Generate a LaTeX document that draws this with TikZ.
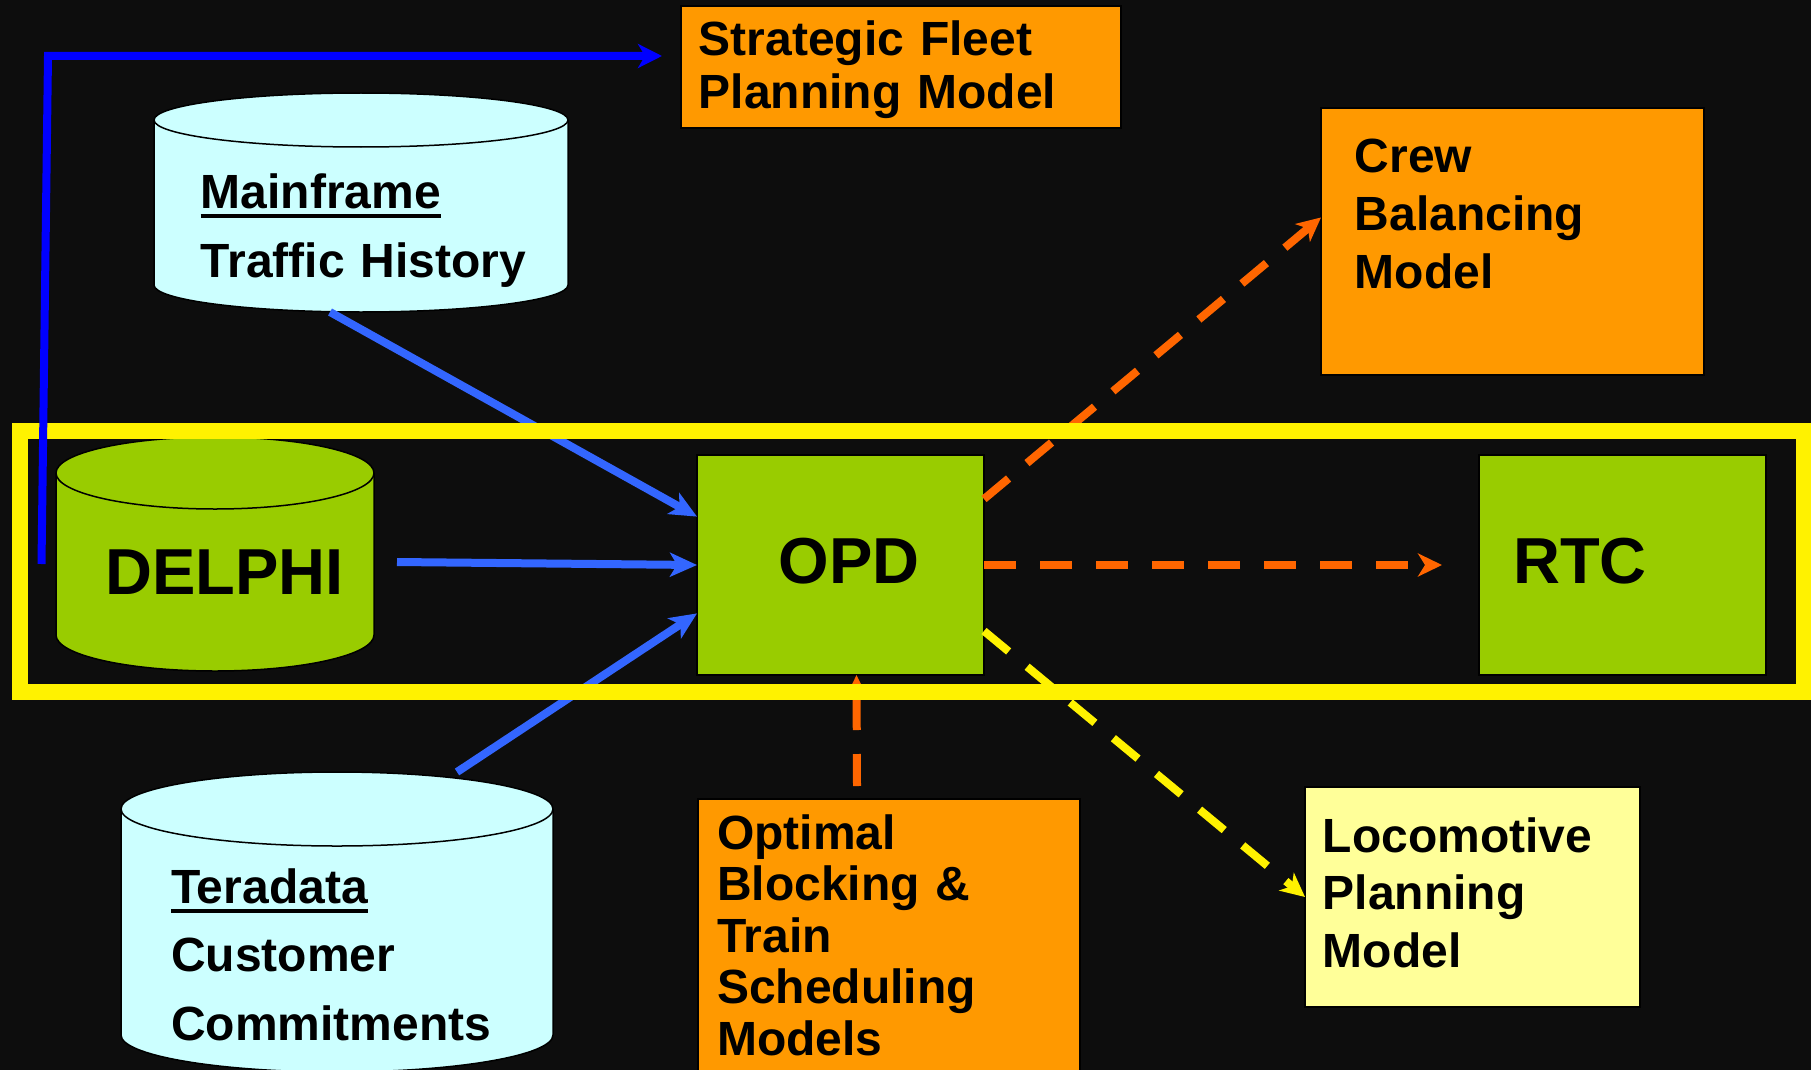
\documentclass[tikz,border=0pt]{standalone}
\usepackage{fontspec}
\setmainfont{Liberation Sans}
\usetikzlibrary{arrows.meta,positioning,calc}

\definecolor{slate}{HTML}{0D0D0D}
\definecolor{modelorange}{HTML}{FF9900}
\definecolor{coregreen}{HTML}{99CC00}
\definecolor{dbcyan}{HTML}{CCFFFF}
\definecolor{locoyellow}{HTML}{FFFF99}
\definecolor{feedblue}{HTML}{3366FF}
\definecolor{planblue}{HTML}{0000FF}
\definecolor{dashorange}{HTML}{FF6600}

% thick underline for the database titles
\newcommand{\dbtitle}[1]{\setbox0=\hbox{#1}\rlap{\rule[-10pt]{\wd0}{4pt}}\box0}

% upright drum: width, height, lid depth, fill
\tikzset{
  pics/database/.style n args={4}{code={
    \path[fill=#4, draw=black, line width=1.5pt]
      (-#1/2,#3-#2/2) -- (-#1/2,#2/2-#3)
      arc[start angle=180, end angle=360, x radius=#1/2*1pt, y radius=#3*1pt]
      -- (#1/2,#3-#2/2)
      arc[start angle=0, end angle=180, x radius=#1/2*1pt, y radius=#3*1pt] -- cycle;
    \draw[black, line width=1.5pt] (-#1/2,#3-#2/2)
      arc[start angle=180, end angle=360, x radius=#1/2*1pt, y radius=#3*1pt];
    \node[inner sep=0pt, outer sep=0pt, minimum width=#1*1pt, minimum height=#2*1pt] (-body) {};
  }}
}

\begin{document}
\begin{tikzpicture}[
    x=1pt, y=-1pt,
    block/.style={rectangle, draw=black, line width=2pt, anchor=north west, inner sep=0pt, outer sep=0pt},
    textblock/.style={anchor=base west, inner sep=0pt, text width=440pt, align=left, font=\bfseries\fontsize{48}{#1}\selectfont},
    bigtext/.style={anchor=base west, inner sep=0pt, font=\bfseries\fontsize{65}{78}\selectfont},
    feed/.style={draw=feedblue, line width=8pt, -{Stealth[length=27pt, width=24pt, inset=7pt]}},
    link/.style={line width=8pt, dash pattern=on 32pt off 24pt, -{Stealth[length=24pt, width=23pt, inset=7pt]}}
]
% page background
\fill[slate, use as bounding box] (0,0) rectangle (1811,1070);

% data sources
\pic (mainframe) at (361,202.5) {database={414}{219}{27}{dbcyan}};
\pic (delphi) at (215,554) {database={318}{234}{36}{coregreen}};
\pic (teradata) at (337,922) {database={432}{300}{37}{dbcyan}};

% planning models
\node[block, fill=modelorange, minimum width=440pt, minimum height=122pt] (fleet) at (681,6) {};
\node[block, fill=modelorange, minimum width=383pt, minimum height=267pt] (crew) at (1321,108) {};
\node[block, fill=modelorange, minimum width=382pt, minimum height=300pt] (optimal) at (698,799) {};
\node[block, fill=locoyellow, minimum width=335pt, minimum height=220pt] (loco) at (1305,787) {};
\node[block, fill=coregreen, minimum width=287pt, minimum height=220pt] (opd) at (697,455) {};
\node[block, fill=coregreen, minimum width=287pt, minimum height=220pt] (rtc) at (1479,455) {};

% labels
\node[textblock=69] (mainframetext) at (200.5,208) {\dbtitle{Mainframe}\\Traffic History};
\node[textblock=68.5] (teradatatext) at (171,903) {\dbtitle{Teradata}\\Customer\\Commitments};
\node[textblock=53] (fleettext) at (698.5,56) {Strategic Fleet\\Planning Model};
\node[textblock=58] (crewtext) at (1354.5,172) {Crew\\Balancing\\Model};
\node[textblock=51.5] (optimaltext) at (717,849) {Optimal\\Blocking \&\\Train\\Scheduling\\Models};
\node[textblock=57.5] (locotext) at (1322.5,852) {Locomotive\\Planning\\Model};
\node[bigtext] (delphitext) at (105,594) {DELPHI};
\node[bigtext] (opdtext) at (778.5,583) {OPD};
\node[bigtext] (rtctext) at (1513,583) {RTC};

% data feeds into OPD
\draw[feed] ($(mainframe-body.south)+(-31,0)$) -- ($(opd.north west)!0.28!(opd.south west)$);
\draw[feed] ($(delphi-body.east)+(23,8)$) -- (opd.west);
\draw[feed] ($(teradata-body.north)+(120,0)$) -- ($(opd.north west)!0.72!(opd.south west)$);

% OPD outputs
\draw[link, dashorange] ($(opd.north east)!0.2!(opd.south east)$) -- ($(crew.north west)!0.41!(crew.south west)$);
\draw[link, dashorange, shorten >=37pt] (opd.east) -- (rtc.west);
\draw[link, yellow] ($(opd.north east)!0.8!(opd.south east)$) -- (loco.west);
\draw[link, dashorange] ([xshift=-32pt, yshift=13pt]optimal.north) -- ([xshift=16pt]opd.south);

% operating core frame
\node[draw=yellow, line width=16pt, anchor=north west, inner sep=0pt, outer sep=0pt, minimum width=1784.5pt, minimum height=261.5pt] (corridor) at (19.5,430.5) {};

% DELPHI to fleet planning
\coordinate (planstart) at (41.5,564);
\coordinate (planbend) at (48,56);
\draw[draw=planblue, line width=8pt, -{Stealth[length=24pt, width=24pt, inset=7pt]}, shorten >=19pt] (planstart) -- (planbend) -- (planbend -| fleet.west);
\end{tikzpicture}
\end{document}
